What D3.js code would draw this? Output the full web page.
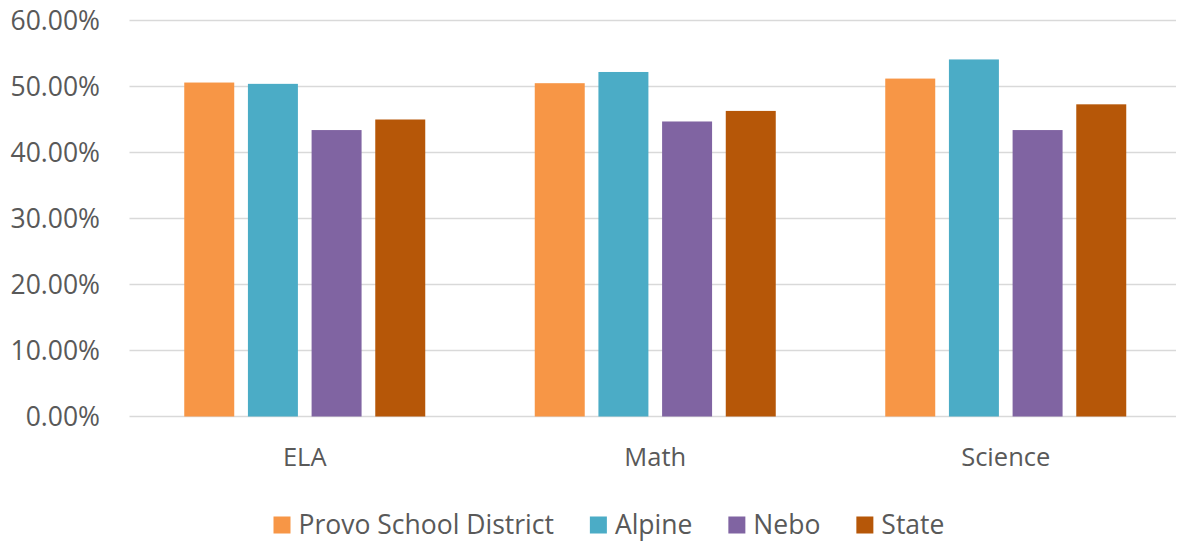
<!DOCTYPE html>
<html>
<head>
<meta charset="utf-8">
<script src="https://cdn.jsdelivr.net/npm/d3@7"></script>
<style>
  html, body { margin: 0; padding: 0; background: #fff; }
  svg { display: block; }
  text { font-family: "Open Sans", sans-serif; fill: #595959; }
</style>
</head>
<body>
<svg id="chart" width="1177" height="543"></svg>
<script>
// Subjects along the x axis
const categories = ["ELA", "Math", "Science"];
// District series, in drawing order
const seriesNames = ["Provo School District", "Alpine", "Nebo", "State"];
const seriesColors = ["#F79646", "#4BACC6", "#8064A2", "#B65708"];
// Proficiency rates per subject, one array per series
const provo  = [0.506, 0.505, 0.512];
const alpine = [0.504, 0.522, 0.541];
const nebo   = [0.434, 0.447, 0.434];
const state  = [0.450, 0.463, 0.473];
const seriesValues = [provo, alpine, nebo, state];
// Value axis ticks
const yTicks = [0, 0.1, 0.2, 0.3, 0.4, 0.5, 0.6];

const svg = d3.select("#chart");
const plot = { left: 129.5, right: 1181, top: 20.5, bottom: 416.5 };

const y = d3.scaleLinear().domain([0, 0.6]).range([plot.bottom, plot.top]);
const x0 = d3.scaleBand().domain(categories).range([plot.left, plot.right]).padding(0);
const groupWidth = 241;
const x1 = d3.scaleBand().domain(seriesNames).range([0, groupWidth])
  .paddingInner(0.215).paddingOuter(0);
const groupOffset = (x0.bandwidth() - groupWidth) / 2;

// Horizontal gridlines
svg.append("g")
  .selectAll("line")
  .data(yTicks)
  .join("line")
  .attr("x1", plot.left)
  .attr("x2", 1176)
  .attr("y1", d => y(d))
  .attr("y2", d => y(d))
  .attr("stroke", "#d9d9d9")
  .attr("stroke-width", 1.6);

// Value axis labels
const fmt = d3.format(".2%");
svg.append("g")
  .selectAll("text")
  .data(yTicks)
  .join("text")
  .attr("x", 100)
  .attr("y", d => y(d))
  .attr("dy", "0.35em")
  .attr("text-anchor", "end")
  .attr("font-size", 26.5)
  .text(d => fmt(d));

// Bars
const rows = categories.map((c, i) => ({
  category: c,
  values: seriesNames.map((s, j) => ({ series: s, color: seriesColors[j], value: seriesValues[j][i] }))
}));

svg.append("g")
  .selectAll("g")
  .data(rows)
  .join("g")
  .attr("transform", d => `translate(${x0(d.category) + groupOffset},0)`)
  .selectAll("rect")
  .data(d => d.values)
  .join("rect")
  .attr("x", d => x1(d.series))
  .attr("width", x1.bandwidth())
  .attr("y", d => y(d.value))
  .attr("height", d => y(0) - y(d.value))
  .attr("fill", d => d.color);

// Category labels
svg.append("g")
  .selectAll("text")
  .data(categories)
  .join("text")
  .attr("x", d => x0(d) + x0.bandwidth() / 2)
  .attr("y", 466)
  .attr("text-anchor", "middle")
  .attr("font-size", 25.5)
  .text(d => d);

// Legend
const legend = svg.append("g");
let lx = 273.5;
seriesNames.forEach((name, i) => {
  const item = legend.append("g").attr("transform", `translate(${lx},0)`);
  item.append("rect")
    .attr("x", 0).attr("y", 516.5)
    .attr("width", 17).attr("height", 17)
    .attr("fill", seriesColors[i]);
  const t = item.append("text")
    .attr("x", 25)
    .attr("y", 534)
    .attr("font-size", 26.5)
    .text(name);
  const w = t.node().getComputedTextLength();
  lx += 25 + w + 36;
});
</script>
</body>
</html>
